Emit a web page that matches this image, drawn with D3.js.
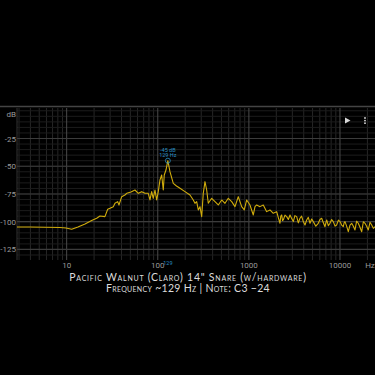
<!DOCTYPE html>
<html>
<head>
<script src="https://d3js.org/d3.v7.min.js"></script>
<style>
  html, body { margin: 0; padding: 0; background: #000; }
  svg { display: block; }
  .tick-label { font-family: Roboto, sans-serif; font-size: 8px; fill: #9a9a9a; }
  .title { font-family: Lato, "Open Sans", sans-serif; font-variant: small-caps; fill: #dcdcdc; }
  .marker-text { font-family: Roboto, sans-serif; font-size: 5.5px; fill: #2a8fc4; }
</style>
</head>
<body>
<script>
// spectrum: frequency (Hz) and level (dB)
var freqs = [2.85, 3.95, 5.78, 8.44, 9.83, 11.35, 13.3, 15.9, 18.8, 21.35,
  23.2, 26.3, 28.2, 29.9, 32.5, 33.9, 36.3, 37.5, 40.2, 43.6,
  45.6, 50.8, 56.2, 61.1, 66.6, 72.4, 78.6, 82.1, 85.7, 89.2,
  93.2, 97.2, 101.3, 105.7, 110.4, 114.9, 117.8, 123, 129, 136.1,
  148, 160.5, 175.3, 198.9, 225.7, 245.3, 256.1, 267.3, 278.4, 290.6,
  303.4, 315.9, 329.7, 344.2, 358.4, 390.6, 424.6, 461.6, 502.9, 546.6,
  594.1, 647.6, 703.9, 765, 798.6, 833.7, 890.3, 945.8, 1028, 1118,
  1167, 1218, 1324, 1439, 1568, 1704, 1853, 2020, 2100, 2195,
  2240, 2291, 2340, 2386, 2490, 2600, 2710, 2827, 2950, 3073,
  3200, 3348, 3490, 3639, 3790, 3956, 4130, 4311, 4490, 4686,
  4890, 5094, 5430, 5778, 6030, 6297, 6570, 6845, 7000, 7145,
  7450, 7767, 8100, 8444, 8820, 9201, 9600, 10000, 10430, 10870,
  11100, 11350, 11830, 12340, 12880, 13440, 14020, 14610, 15230, 15880,
  16580, 17310, 18050, 18810, 19620, 20450, 21350, 22280, 23250, 24230];
var levels = [-104.7, -104.7, -105, -105.2, -105.6, -106.8, -104.7, -102, -99, -96.9,
  -94.8, -95.4, -88.8, -87.9, -86.4, -83.4, -81.9, -84.9, -77.4, -75.9,
  -74.4, -73.2, -71.4, -74.4, -72.9, -74.4, -74.4, -80.4, -72.9, -78.9,
  -71.4, -80.4, -72.9, -62.4, -57.9, -71.4, -57.9, -53.4, -45, -54.9,
  -65.4, -67.8, -69.9, -72.9, -75.9, -80.4, -83.4, -81.9, -89.4, -86.4,
  -95.4, -74.4, -63.9, -71.4, -83.4, -78.9, -81.9, -84.9, -80.4, -83.4,
  -78.9, -81.9, -86.4, -77.4, -81.9, -86.4, -89.4, -80.4, -84.9, -93.9,
  -86.4, -84.9, -86.4, -84.9, -90.9, -89.4, -92.4, -90.9, -96, -101.4,
  -95, -93.9, -99, -98.4, -94, -95.4, -98, -93.9, -97, -99.9,
  -94.5, -95.4, -101, -96.9, -95, -99.9, -103, -98.4, -96, -101.4,
  -97.5, -99.9, -104, -101.4, -98, -96.9, -101, -104.5, -101, -98.4,
  -103.5, -101.4, -98, -99.9, -104, -102.9, -98.5, -99.9, -103, -104.5,
  -101, -99.9, -104, -109, -103, -101.4, -104, -107.4, -99.5, -101.4,
  -105, -109, -100, -101.4, -104, -107.4, -100.5, -102.9, -106, -104.5];

var yTicks = [0, -25, -50, -75, -100, -125];
var xTicks = [10, 100, 1000, 10000];
var peak = { freq: 129, level: -45 };
var titleLines = ["Pacific Walnut (Claro) 14\" Snare (w/hardware)",
  "Frequency ~129 Hz | Note: C3 \u221224"];

var W = 375, H = 375;
var plotL = 17, plotR = 375, plotT = 108, plotB = 260;

var svg = d3.select("body").append("svg")
  .attr("width", W).attr("height", H);

svg.append("rect").attr("width", W).attr("height", H).attr("fill", "#000");

var x = d3.scaleLog().domain([2.85, 24230]).range([plotL, plotR]);
var y = d3.scaleLinear().domain([-134.5, 2.5]).range([plotB, plotT]);

// top separator
svg.append("line")
  .attr("x1", 0).attr("x2", W).attr("y1", 106.5).attr("y2", 106.5)
  .attr("stroke", "#444").attr("stroke-width", 1.5);

var grid = svg.append("g");

// minor vertical lines
var minorX = [];
[1, 10, 100, 1000, 10000].forEach(function (dec) {
  for (var k = 2; k <= 9; k++) {
    var f = dec * k;
    if (f > 2.85 && f < 24230) minorX.push(f);
  }
});
grid.selectAll(".vminor").data(minorX).enter().append("line")
  .attr("x1", function (d) { return x(d); }).attr("x2", function (d) { return x(d); })
  .attr("y1", plotT).attr("y2", plotB)
  .attr("stroke", "#262626").attr("stroke-width", 1);

// minor horizontal lines
grid.selectAll(".hminor").data(d3.range(-130, 1, 5)).enter().append("line")
  .attr("x1", plotL).attr("x2", plotR)
  .attr("y1", function (d) { return y(d); }).attr("y2", function (d) { return y(d); })
  .attr("stroke", "#1c1c1c").attr("stroke-width", 1);

// major lines
grid.selectAll(".vmajor").data(xTicks).enter().append("line")
  .attr("x1", function (d) { return x(d); }).attr("x2", function (d) { return x(d); })
  .attr("y1", plotT).attr("y2", plotB)
  .attr("stroke", "#4a4a4a").attr("stroke-width", 1);

grid.selectAll(".hmajor").data(yTicks.slice(1)).enter().append("line")
  .attr("x1", plotL).attr("x2", plotR)
  .attr("y1", function (d) { return y(d); }).attr("y2", function (d) { return y(d); })
  .attr("stroke", "#3c3c3c").attr("stroke-width", 1.2);

grid.append("line")
  .attr("x1", plotL).attr("x2", plotL).attr("y1", plotT).attr("y2", plotB)
  .attr("stroke", "#333");

// y labels
svg.selectAll(".ylab").data(yTicks).enter().append("text")
  .attr("class", "tick-label")
  .attr("x", 16)
  .attr("y", function (d) { return d === 0 ? y(0) + 6 : y(d) + 3; })
  .attr("text-anchor", "end")
  .text(function (d) { return d === 0 ? "dB" : d; });

// x labels
svg.selectAll(".xlab").data(xTicks).enter().append("text")
  .attr("class", "tick-label")
  .attr("x", function (d) { return x(d); })
  .attr("y", 268)
  .attr("text-anchor", "middle")
  .text(function (d) { return d; });

svg.append("text").attr("class", "tick-label")
  .attr("x", 370).attr("y", 268).attr("text-anchor", "middle").text("Hz");

// spectrum line
var pts = freqs.map(function (f, i) { return [f, levels[i]]; });
svg.append("path")
  .datum(pts)
  .attr("fill", "none")
  .attr("stroke", "#d0ac0c")
  .attr("stroke-width", 1.1)
  .attr("stroke-linejoin", "round")
  .attr("d", d3.line()
    .x(function (d) { return x(d[0]); })
    .y(function (d) { return y(d[1]); }));

// peak marker
svg.append("circle")
  .attr("cx", x(peak.freq)).attr("cy", y(peak.level)).attr("r", 2.5)
  .attr("fill", "none").attr("stroke", "#2a8fc4").attr("stroke-width", 0.8);

svg.append("text").attr("class", "marker-text")
  .attr("x", x(peak.freq)).attr("y", y(peak.level) - 9)
  .attr("text-anchor", "middle").text(peak.level + " dB");
svg.append("text").attr("class", "marker-text")
  .attr("x", x(peak.freq)).attr("y", y(peak.level) - 4)
  .attr("text-anchor", "middle").text(peak.freq + " Hz");
svg.append("text").attr("class", "marker-text")
  .attr("x", x(peak.freq)).attr("y", 265)
  .attr("text-anchor", "middle").text(peak.freq);

// title
svg.selectAll(".title").data(titleLines).enter().append("text")
  .attr("class", "title")
  .attr("x", 188)
  .attr("y", function (d, i) { return 281 + i * 10.5; })
  .attr("text-anchor", "middle")
  .attr("font-size", 10.5)
  .attr("letter-spacing", function (d, i) { return i === 0 ? 0.75 : 0.3; })
  .text(function (d) { return d; });

// icons top right
svg.append("path")
  .attr("d", "M345,117.5 L350.5,120.5 L345,123.5 Z")
  .attr("fill", "#d8d8d8");
svg.selectAll(".dot").data([118, 120.6, 123.2]).enter().append("circle")
  .attr("cx", 365).attr("cy", function (d) { return d; }).attr("r", 0.9)
  .attr("fill", "#d8d8d8");
</script>
</body>
</html>
